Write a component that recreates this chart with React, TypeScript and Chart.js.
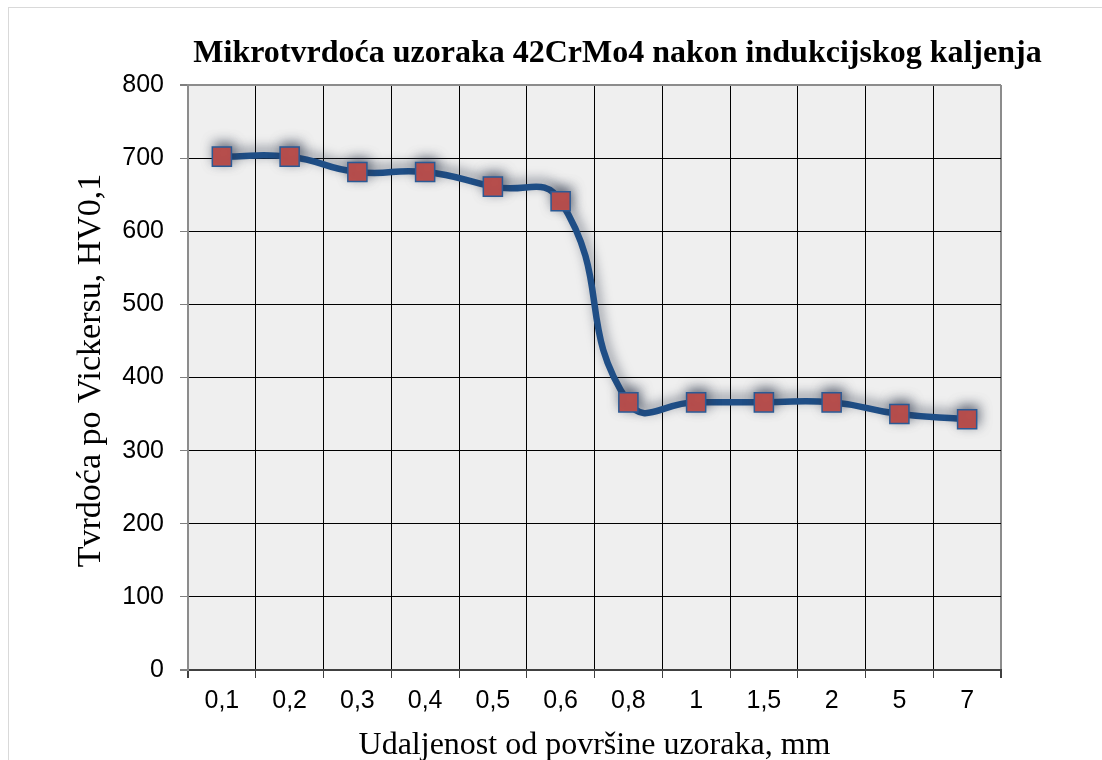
import React, { useEffect, useRef } from "react";
import { Chart, registerables } from "chart.js";

Chart.register(...registerables);

const TITLE = "Mikrotvrdoća uzoraka 42CrMo4 nakon indukcijskog kaljenja";
const X_TITLE = "Udaljenost od površine uzoraka, mm";
const Y_TITLE = "Tvrdoća po Vickersu, HV0,1";
const categories = ["0,1", "0,2", "0,3", "0,4", "0,5", "0,6", "0,8", "1", "1,5", "2", "5", "7"];
const hardness = [702, 702, 681, 681, 661, 641, 366, 366, 366, 366, 350, 343];
const Y_MIN = 0;
const Y_MAX = 800;
const Y_STEP = 100;

const chromePlugin = {
  id: "chrome",
  beforeDraw(chart: any) {
    const { ctx, chartArea } = chart;
    ctx.save();
    ctx.fillStyle = "#ffffff";
    ctx.fillRect(0, 0, chart.width, chart.height);
    ctx.strokeStyle = "#d9d9d9";
    ctx.lineWidth = 1;
    ctx.strokeRect(8.5, 7.5, 1400, 1000);
    ctx.fillStyle = "#efefef";
    ctx.fillRect(chartArea.left, chartArea.top, chartArea.right - chartArea.left, chartArea.bottom - chartArea.top);
    ctx.restore();
  },
  afterDraw(chart: any) {
    const { ctx, chartArea } = chart;
    ctx.save();
    ctx.fillStyle = "#000000";
    ctx.font = "bold 32px 'Liberation Serif'";
    ctx.textAlign = "center";
    ctx.textBaseline = "alphabetic";
    ctx.fillText(TITLE, (chartArea.left + chartArea.right) / 2 + 23, 62);
    // y-axis title
    ctx.font = "34px 'Liberation Serif'";
    ctx.translate(100, (chartArea.top + chartArea.bottom) / 2 - 7);
    ctx.rotate(-Math.PI / 2);
    ctx.textBaseline = "alphabetic";
    ctx.fillText(Y_TITLE, 0, 0);
    ctx.restore();
  },
};

const shadowPlugin = {
  id: "lineShadow",
  beforeDatasetsDraw(chart: any) {
    const ctx = chart.ctx;
    ctx.save();
    ctx.shadowColor = "rgba(40,50,70,0.6)";
    ctx.shadowBlur = 12;
    ctx.shadowOffsetX = 2;
    ctx.shadowOffsetY = -4;
  },
  afterDatasetsDraw(chart: any) {
    chart.ctx.restore();
  },
};

export default function App() {
  const ref = useRef<HTMLCanvasElement | null>(null);
  useEffect(() => {
    if (!ref.current) return;
    const chart = new Chart(ref.current, {
      type: "line",
      data: {
        labels: categories,
        datasets: [
          {
            data: hardness,
            borderColor: "#1f4e86",
            borderWidth: 6.5,
            tension: 0.5,
            borderCapStyle: "round",
            borderJoinStyle: "round",
            pointStyle: "rect",
            pointRadius: 13.5,
            pointHoverRadius: 13.5,
            pointBackgroundColor: "#c0504d",
            pointBorderColor: "#2a5a95",
            pointBorderWidth: 1.5,
            fill: false,
          },
        ],
      },
      options: {
        animation: false,
        responsive: true,
        maintainAspectRatio: false,
        layout: { padding: { left: 0, top: 85, right: 101, bottom: 0 } },
        plugins: {
          legend: { display: false },
          tooltip: { enabled: false },
          title: { display: false },
        },
        scales: {
          x: {
            type: "category",
            offset: true,
            afterFit: (s: any) => {
              s.height = 90;
            },
            grid: {
              offset: true,
              drawTicks: true,
              tickLength: 8,
              tickColor: "#404040",
              color: (c: any) => (c.index === undefined || c.index === 0 ? "#8c8c8c" : "#000000"),
              lineWidth: (c: any) => (c.index === undefined || c.index === 0 ? 2 : 1),
            },
            border: { display: true, color: "#404040", width: 2 },
            ticks: {
              color: "#000000",
              padding: 8,
              maxRotation: 0,
              autoSkip: false,
              font: { family: "'Liberation Sans'", size: 25 },
            },
            title: {
              display: true,
              text: X_TITLE,
              color: "#000000",
              font: { family: "'Liberation Serif'", size: 32, lineHeight: 1 },
              padding: { top: 0, bottom: -2 },
            },
          },
          y: {
            min: Y_MIN,
            max: Y_MAX,
            afterFit: (s: any) => {
              s.width = 188;
            },
            grid: {
              drawTicks: true,
              tickLength: 8,
              tickColor: "#7f7f7f",
              color: (c: any) =>
                c.tick && c.tick.value === Y_MAX ? "#8c8c8c" : c.tick && c.tick.value === Y_MIN ? "#404040" : "#000000",
              lineWidth: (c: any) =>
                c.tick && (c.tick.value === Y_MAX || c.tick.value === Y_MIN) ? 2 : 1,
            },
            border: { display: true, color: "#8c8c8c", width: 2 },
            ticks: {
              stepSize: Y_STEP,
              color: "#000000",
              padding: 16,
              font: { family: "'Liberation Sans'", size: 25 },
            },
            title: { display: false },
          },
        },
      },
      plugins: [chromePlugin, shadowPlugin],
    });
    return () => chart.destroy();
  }, []);
  return (
    <div style={{ position: "absolute", left: 0, top: 0, width: 1102, height: 760 }}>
      <canvas ref={ref} />
    </div>
  );
}
